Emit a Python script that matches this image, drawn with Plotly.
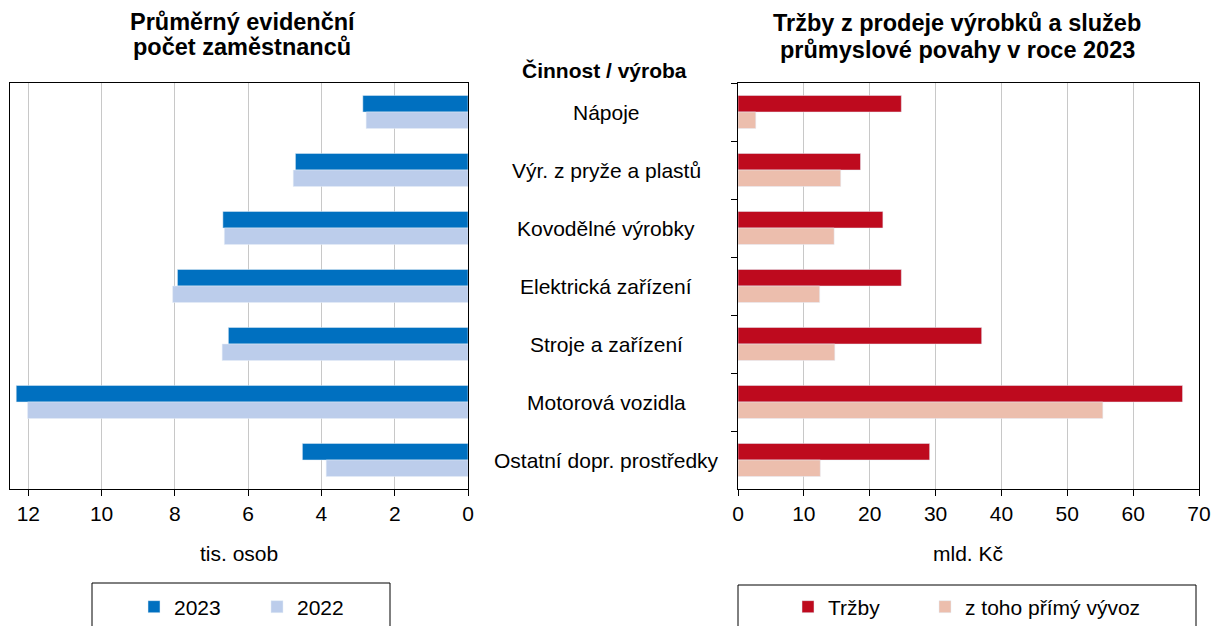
import plotly.graph_objects as go

categories = ["Nápoje", "Výr. z pryže a plastů", "Kovodělné výrobky", "Elektrická zařízení",
              "Stroje a zařízení", "Motorová vozidla", "Ostatní dopr. prostředky"]
emp_2023 = [2.87, 4.71, 6.69, 7.93, 6.54, 12.33, 4.52]
emp_2022 = [2.78, 4.77, 6.65, 8.06, 6.71, 12.02, 3.87]
sales = [24.8, 18.6, 22.0, 24.8, 37.0, 67.5, 29.1]
export = [2.7, 15.6, 14.6, 12.4, 14.7, 55.4, 12.5]
left_ticks = [0, 2, 4, 6, 8, 10, 12]
right_ticks = [0, 10, 20, 30, 40, 50, 60, 70]

W, H = 1211, 626
ML, MR, MT, MB = 10, 12, 83, 137
PW = W - ML - MR
PH = H - MT - MB

def px(x):
    return (x - ML) / PW

def py(y):
    return (H - MB - y) / PH

FONT = "Liberation Sans, Arial, sans-serif"
FS = 21
C23, C22 = "#0070C0", "#BCCDEB"
CS, CE = "#BE0A1E", "#ECBEAD"

fig = go.Figure()
fig.add_trace(go.Bar(y=categories, x=emp_2023, orientation="h", name="2023",
                     marker_color=C23, xaxis="x", yaxis="y", legend="legend"))
fig.add_trace(go.Bar(y=categories, x=emp_2022, orientation="h", name="2022",
                     marker_color=C22, xaxis="x", yaxis="y", legend="legend"))
fig.add_trace(go.Bar(y=categories, x=sales, orientation="h", name="Tržby",
                     marker_color=CS, xaxis="x2", yaxis="y2", legend="legend2"))
fig.add_trace(go.Bar(y=categories, x=export, orientation="h", name="z toho přímý vývoz",
                     marker_color=CE, xaxis="x2", yaxis="y2", legend="legend3"))

axis_common = dict(showline=True, linecolor="black", linewidth=1.3, mirror=True,
                   ticks="outside", ticklen=6, tickcolor="black", tickwidth=1.3,
                   showgrid=True, gridcolor="#C8C8C8", gridwidth=1, zeroline=False,
                   automargin=False, tickfont=dict(size=FS, color="black"))

leg_common = dict(orientation="h", yanchor="middle", y=py(607), font=dict(size=FS),
                  bgcolor="rgba(0,0,0,0)", traceorder="normal", itemwidth=30)

fig.update_layout(
    width=W, height=H,
    margin=dict(l=ML, r=MR, t=MT, b=MB, autoexpand=False),
    paper_bgcolor="white", plot_bgcolor="white",
    font=dict(family=FONT, color="black", size=FS),
    barmode="group", bargap=0.43, bargroupgap=0,
    xaxis=dict(domain=[0, px(468)], range=[12.5, 0], tickvals=left_ticks, anchor="y", **axis_common),
    yaxis=dict(domain=[0, 1], anchor="x", side="right", autorange="reversed",
               categoryorder="array", categoryarray=categories, automargin=False,
               showticklabels=False, showline=True, linecolor="black", linewidth=1.3,
               mirror=True, ticks="", showgrid=False),
    xaxis2=dict(domain=[px(738), 1], range=[0, 70], tickvals=right_ticks, anchor="y2", **axis_common),
    yaxis2=dict(domain=[0, 1], anchor="x2", autorange="reversed",
                categoryorder="array", categoryarray=categories, automargin=False,
                showticklabels=False, showline=True, linecolor="black", linewidth=1.3,
                mirror=True, ticks="outside", ticklen=6, tickcolor="black", tickwidth=1.3,
                tickson="boundaries", showgrid=False),
    legend=dict(x=px(257), xanchor="center", entrywidth=78, entrywidthmode="pixels", **leg_common),
    legend2=dict(x=px(788), xanchor="left", **leg_common),
    legend3=dict(x=px(925), xanchor="left", **leg_common),
)

shapes = [
    dict(type="rect", xref="paper", yref="paper", x0=px(92), x1=px(390), y0=py(640), y1=py(583),
         line=dict(color="black", width=1), fillcolor="rgba(0,0,0,0)", layer="below"),
    dict(type="rect", xref="paper", yref="paper", x0=px(738), x1=px(1196), y0=py(640), y1=py(585),
         line=dict(color="black", width=1), fillcolor="rgba(0,0,0,0)", layer="below"),
]
fig.update_layout(shapes=shapes)

def note(text, x, y, size=FS, bold=False, yref="paper"):
    t = f"<b>{text}</b>" if bold else text
    return dict(text=t, xref="paper", yref=yref, x=x, y=y, xanchor="center",
                yanchor="middle", showarrow=False, font=dict(size=size))

ann = [
    note("Průměrný evidenční", px(243), py(22), size=23.5, bold=True),
    note("počet zaměstnanců", px(242), py(47), size=23.5, bold=True),
    note("Tržby z prodeje výrobků a služeb", px(957), py(23), size=23.5, bold=True),
    note("průmyslové povahy v roce 2023", px(957), py(50), size=23.5, bold=True),
    note("Činnost / výroba", px(604), py(70), bold=True),
    note("tis. osob", px(239), py(553)),
    note("mld. Kč", px(968), py(553)),
]
for c in categories:
    ann.append(note(c, px(606), c, yref="y2"))
fig.update_layout(annotations=ann)

fig.write_html("out.html", config={"displayModeBar": False},
               post_script="document.body.style.margin='0';")
